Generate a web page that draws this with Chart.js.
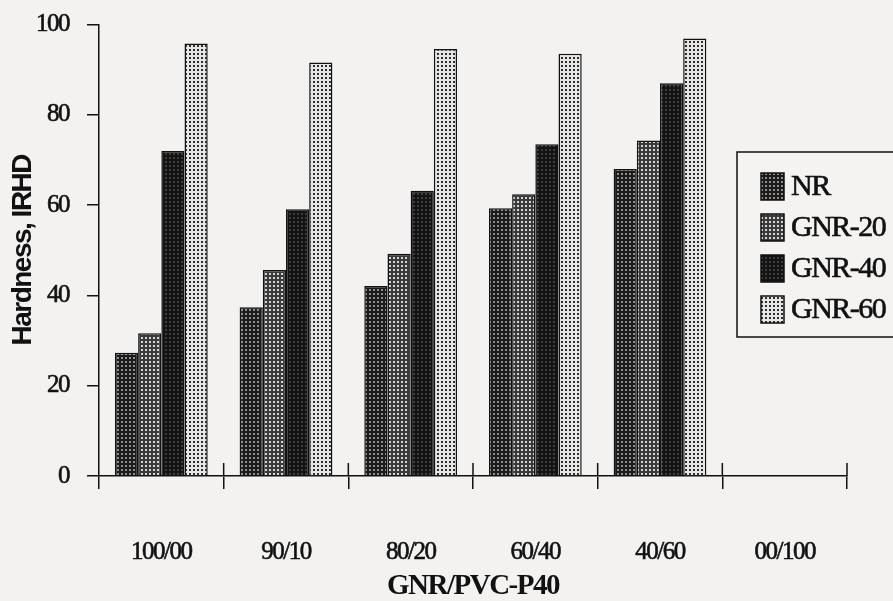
<!DOCTYPE html>
<html>
<head>
<meta charset="utf-8">
<script src="https://cdn.jsdelivr.net/npm/chart.js@4/dist/chart.umd.min.js"></script>
<style>
  html, body { margin: 0; padding: 0; background: #f3f2f1; }
  #wrap { width: 893px; height: 601px; }
</style>
</head>
<body>
<div id="wrap"><canvas id="c" width="893" height="601"></canvas></div>
<script>
// Blend ratio categories and hardness readings (IRHD)
const categories = ['100/00', '90/10', '80/20', '60/40', '40/60', '00/100'];
const seriesNames = ['NR', 'GNR-20', 'GNR-40', 'GNR-60'];
const nr    = [27.3, 37.4, 42.1, 59.3, 68.0, null];
const gnr20 = [31.6, 45.6, 49.2, 62.4, 74.3, null];
const gnr40 = [72.0, 59.1, 63.2, 73.5, 87.0, null];
const gnr60 = [95.8, 91.6, 94.6, 93.5, 96.9, null];
const yMin = 0, yMax = 100, yStep = 20;

// Halftone-like dot fills for the bars
function dotPattern(base, dot) {
  const tile = document.createElement('canvas');
  tile.width = 4; tile.height = 4;
  const g = tile.getContext('2d');
  g.fillStyle = base; g.fillRect(0, 0, 4, 4);
  g.fillStyle = dot; g.fillRect(1, 1, 2, 2);
  return g.createPattern(tile, 'repeat');
}
const fills = [
  dotPattern('#1b1b1b', '#8e8e8e'),
  dotPattern('#3a3a3a', '#d6d6d6'),
  dotPattern('#131313', '#3e3e3e'),
  dotPattern('#e6e6e6', '#2e2e2e')
];
const seriesValues = [nr, gnr20, gnr40, gnr60];

const ink = '#111';
const serif = "'Liberation Serif', 'Times New Roman', serif";
const sans = "'Liberation Sans', Arial, sans-serif";

// Ticks that cross the category axis (upper half; lower half comes from the grid ticks)
const crossTicks = {
  id: 'crossTicks',
  beforeDraw(chart) { chart.ctx.letterSpacing = '-1.5px'; },
  afterDraw(chart) {
    const x = chart.scales.x, ctx = chart.ctx;
    const half = (x.getPixelForValue(1) - x.getPixelForValue(0)) / 2;
    ctx.save();
    ctx.strokeStyle = ink; ctx.lineWidth = 1.5;
    for (let i = 1; i <= categories.length; i++) {
      const px = x.getPixelForValue(i) - half;
      ctx.beginPath();
      ctx.moveTo(px, x.top - 13);
      ctx.lineTo(px, x.top);
      ctx.stroke();
    }
    ctx.restore();
  }
};

// Boxed legend on the right
const boxLegend = {
  id: 'boxLegend',
  afterDraw(chart, args, opts) {
    const ctx = chart.ctx;
    ctx.save();
    ctx.fillStyle = '#f4f3f2';
    ctx.fillRect(opts.left, opts.top, opts.width, opts.height);
    ctx.strokeStyle = ink; ctx.lineWidth = 1.5;
    ctx.strokeRect(opts.left, opts.top, opts.width, opts.height);
    ctx.font = '30px ' + serif;
    ctx.textBaseline = 'middle';
    ctx.letterSpacing = '-1.5px';
    chart.data.datasets.forEach((ds, i) => {
      const cy = opts.firstY + i * opts.gap;
      const sx = opts.left + 24;
      ctx.fillStyle = ds.backgroundColor;
      ctx.fillRect(sx, cy - 13.5, 23, 27);
      ctx.lineWidth = 1.5; ctx.strokeStyle = ink;
      ctx.strokeRect(sx, cy - 13.5, 23, 27);
      ctx.fillStyle = ink;
      ctx.lineWidth = 0.6;
      ctx.strokeText(ds.label, sx + 30, cy + 1);
      ctx.fillText(ds.label, sx + 30, cy + 1);
    });
    ctx.restore();
  }
};

new Chart(document.getElementById('c'), {
  type: 'bar',
  data: {
    labels: categories,
    datasets: seriesNames.map((name, i) => ({
      label: name,
      data: seriesValues[i],
      backgroundColor: fills[i],
      borderColor: ink,
      borderWidth: 1.5,
      borderSkipped: 'bottom',
      categoryPercentage: 0.744,
      barPercentage: 1.0
    }))
  },
  options: {
    responsive: false,
    animation: false,
    layout: { padding: { top: 24.5, right: 46, bottom: 0, left: 0 } },
    plugins: {
      legend: { display: false },
      tooltip: { enabled: false },
      boxLegend: { left: 737, top: 152, width: 170, height: 185, firstY: 186.5, gap: 41 }
    },
    scales: {
      x: {
        afterFit(s) { s.height = 125; },
        grid: { display: true, offset: true, drawOnChartArea: false, drawTicks: true,
                tickLength: 13, color: ink, lineWidth: 1.5 },
        border: { display: true, color: ink, width: 1.5 },
        ticks: { color: ink, font: { family: serif, size: 25 }, padding: 48, maxRotation: 0,
                 textStrokeColor: ink, textStrokeWidth: 0.6 },
        title: { display: true, text: 'GNR/PVC-P40', color: ink,
                 font: { family: serif, size: 29, weight: 'bold', lineHeight: 1 }, padding: { top: 0, bottom: 0 } }
      },
      y: {
        min: yMin, max: yMax,
        afterFit(s) { s.width = 99; s.paddingTop = 0; s.paddingBottom = 0; },
        grid: { display: true, drawOnChartArea: false, drawTicks: true,
                tickLength: 12, color: ink, lineWidth: 1.5 },
        border: { display: true, color: ink, width: 1.5 },
        ticks: { stepSize: yStep, color: ink, font: { family: serif, size: 25 }, padding: 18,
                 textStrokeColor: ink, textStrokeWidth: 0.6 },
        title: { display: true, text: 'Hardness, IRHD', color: ink,
                 font: { family: sans, size: 28, weight: 'bold' }, padding: { top: 6, bottom: 0 } }
      }
    }
  },
  plugins: [crossTicks, boxLegend]
});
</script>
</body>
</html>
